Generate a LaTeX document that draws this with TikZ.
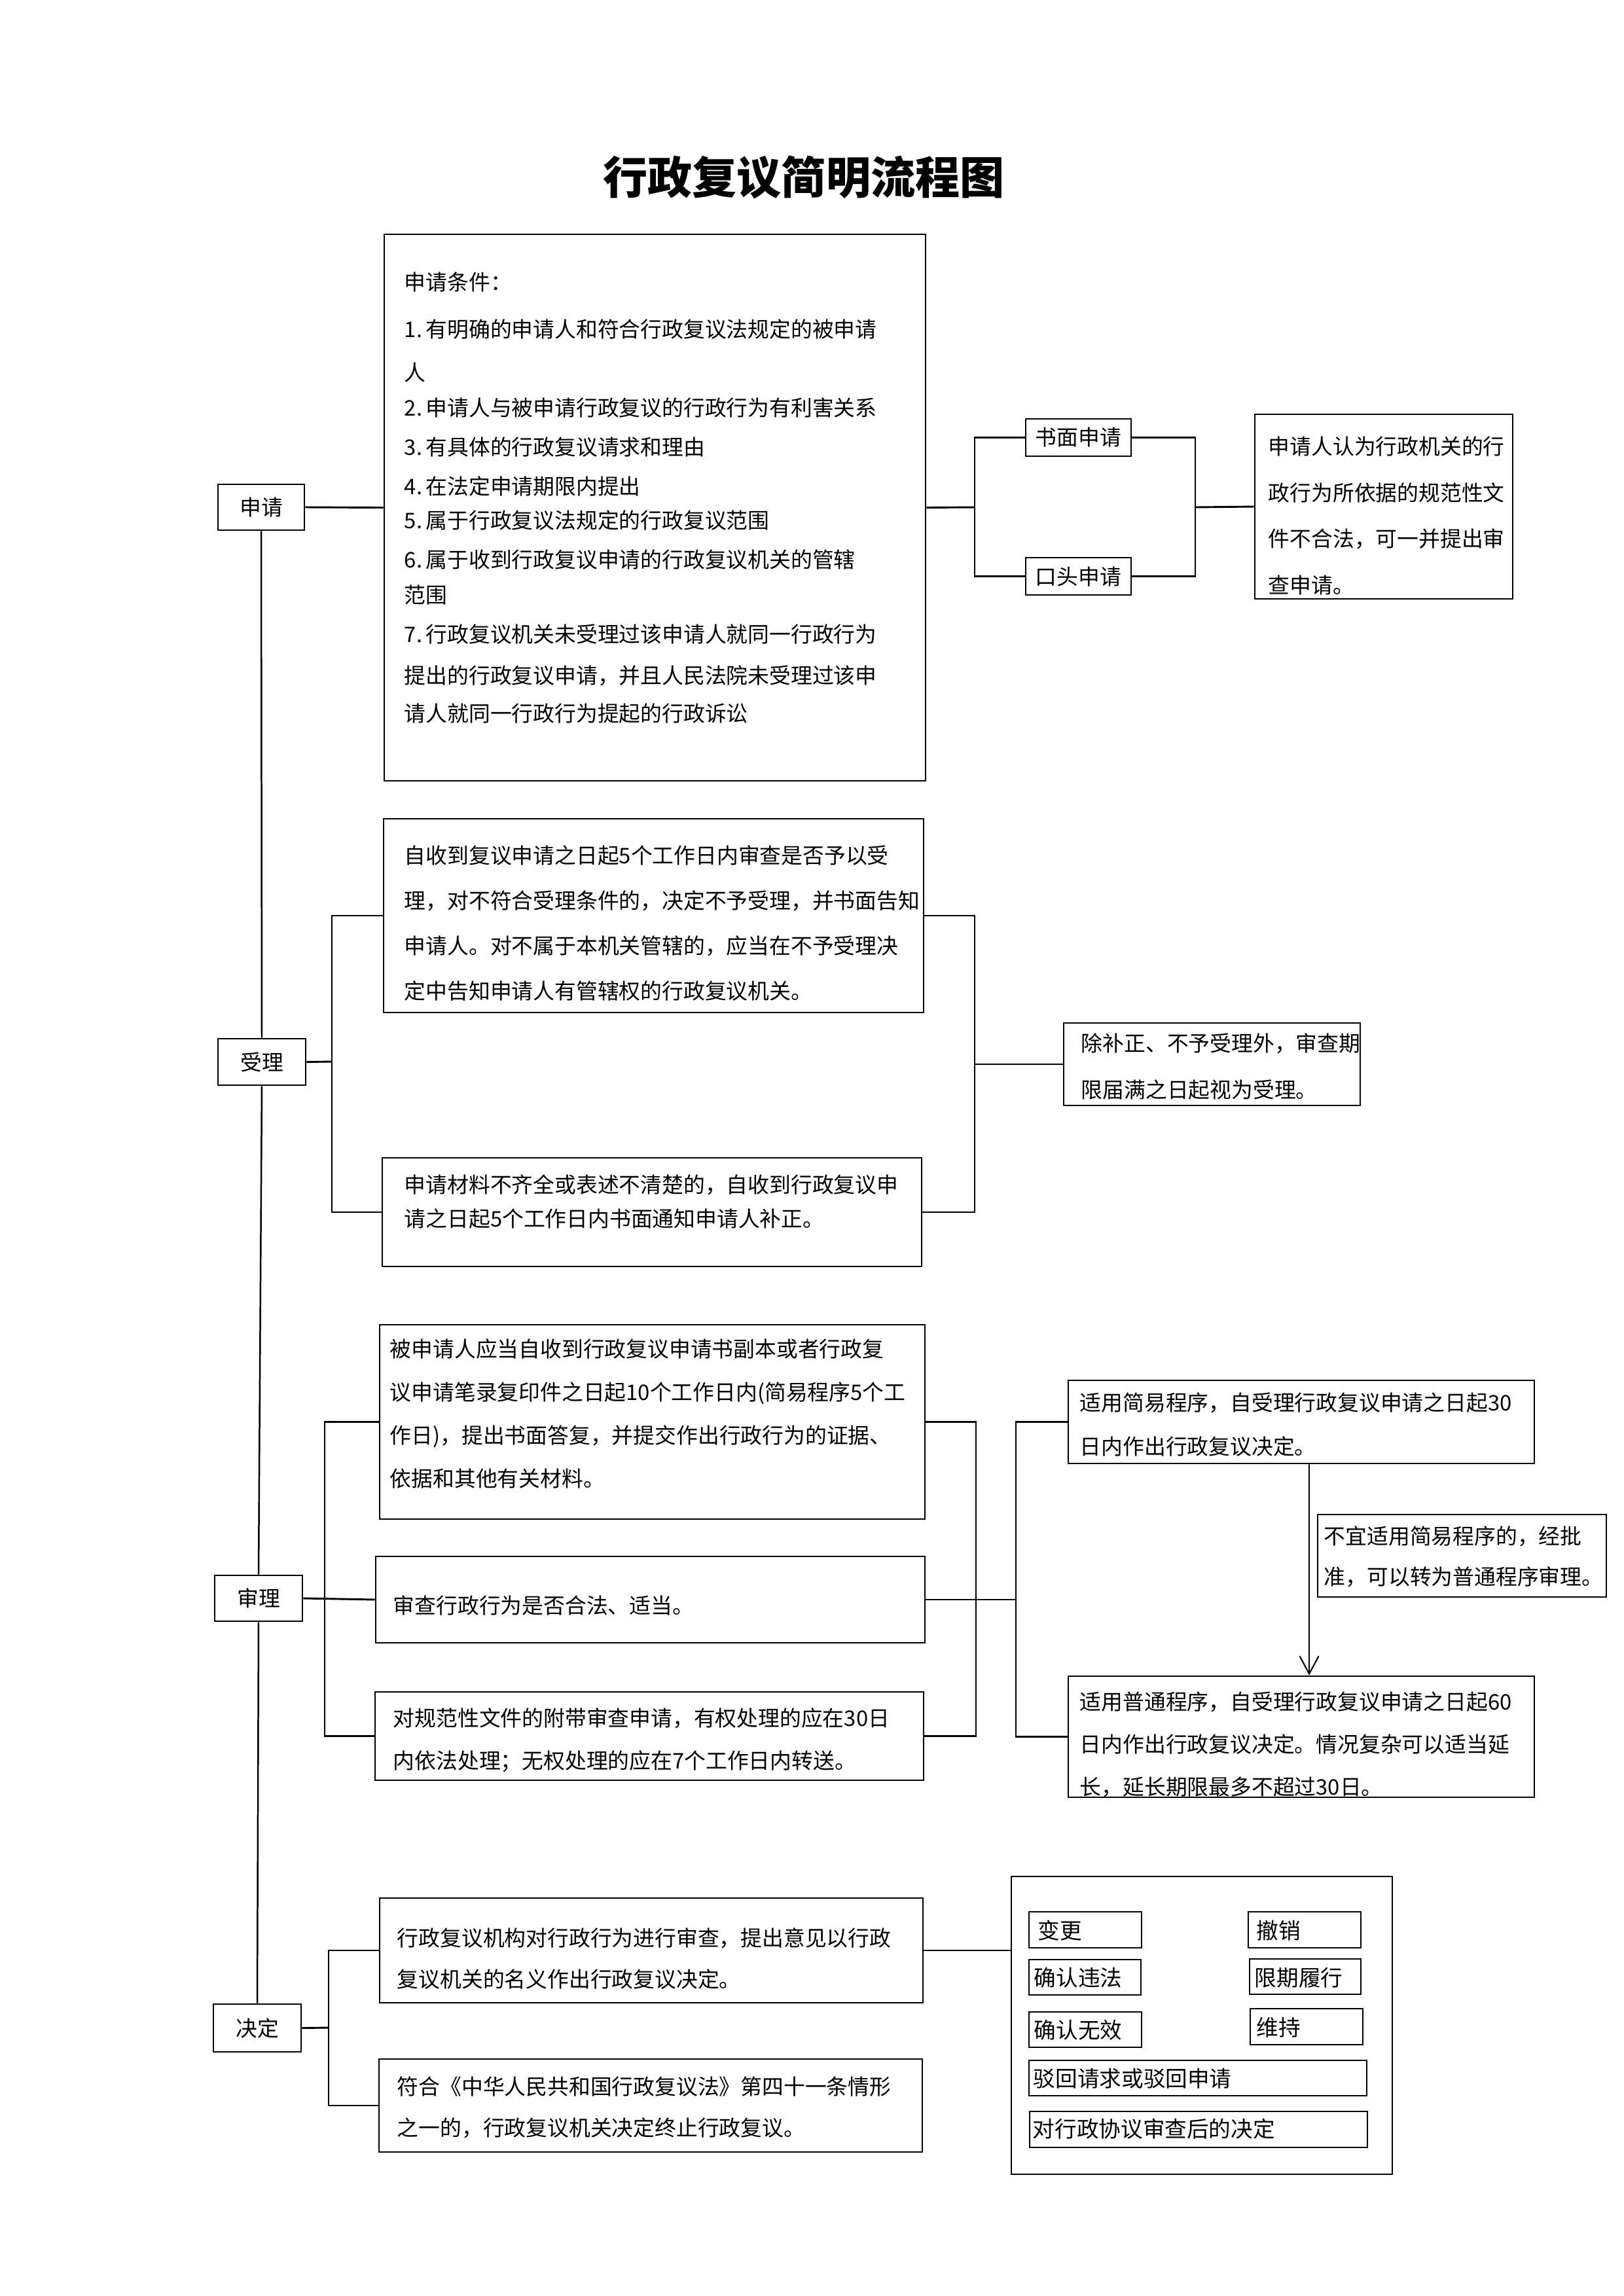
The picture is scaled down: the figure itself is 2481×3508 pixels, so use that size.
\documentclass[tikz,border=0pt]{standalone}
\usepackage{fontspec}
\newfontfamily\cjk{Noto Sans CJK SC}
\usetikzlibrary{arrows.meta}
\newcommand\mkbox[6]{\node[boxst, minimum width={(#4-#2)*0.2408pt}, minimum height={(#5-#3)*0.2408pt}] (#1) at ({(#2+#4)/2},{(#3+#5)/2}) {#6};}
\begin{document}
\begin{tikzpicture}[x=0.2408pt, y=-0.2408pt,
  boxst/.style={draw, line width=0.7pt, inner sep=0pt, rectangle, font=\cjk\fontsize{7.9}{10}\selectfont},
  conn/.style={line width=0.7pt},
  mainline/.style={line width=0.6pt},
  txt/.style={inner sep=0pt, align=left},
  arr/.style={line width=0.5pt, -{Straight Barb[length=6.5pt,width=7pt]}}]
\useasboundingbox (0,0) rectangle (2481,3508);

\node[font=\cjk\bfseries\fontsize{16.4}{20}\selectfont] (title) at (1228,271) {行政复议简明流程图};

% boxes
\mkbox{sq}{333}{740}{465}{810}{申请}
\mkbox{cond}{587}{358}{1414}{1193}{}
\mkbox{sm}{1567}{640}{1728}{697}{书面申请}
\mkbox{kt}{1567}{852}{1728}{909}{口头申请}
\mkbox{rb}{1917}{633}{2311}{915}{}
\mkbox{sl}{333}{1587}{467}{1658}{受理}
\mkbox{ba}{586}{1251}{1411}{1547}{}
\mkbox{bb}{584}{1769}{1408}{1935}{}
\mkbox{bc}{1625}{1563}{2078}{1689}{}
\mkbox{st}{328}{2407}{462}{2477}{审理}
\mkbox{bd}{580}{2024}{1413}{2321}{}
\mkbox{be}{574}{2378}{1413}{2510}{}
\mkbox{bf}{573}{2585}{1411}{2720}{}
\mkbox{bg}{1632}{2109}{2344}{2236}{}
\mkbox{bh}{1632}{2561}{2344}{2746}{}
\mkbox{bi}{2013}{2314}{2454}{2440}{}
\mkbox{jd}{326}{3062}{460}{3135}{决定}
\mkbox{bj}{580}{2900}{1410}{3060}{}
\mkbox{bk}{579}{3146}{1409}{3288}{}
\mkbox{bl}{1545}{2867}{2127}{3322}{}
\mkbox{s1}{1572}{2921}{1744}{2976}{}
\mkbox{s2}{1907}{2921}{2079}{2976}{}
\mkbox{s3}{1572}{2994}{1743}{3048}{}
\mkbox{s4}{1909}{2993}{2079}{3047}{}
\mkbox{s5}{1572}{3074}{1744}{3128}{}
\mkbox{s6}{1910}{3069}{2082}{3124}{}
\mkbox{s7}{1572}{3148}{2088}{3202}{}
\mkbox{s8}{1573}{3226}{2089}{3281}{}

% texts
\node[txt, anchor=north west, font=\cjk\fontsize{7.9}{14.45}\selectfont] (condt) at (617,415)
{申请条件：\\[2.9pt]
1.\,有明确的申请人和符合行政复议法规定的被申请\\[1.4pt]
人\\[-1.4pt]
2.\,申请人与被申请行政复议的行政行为有利害关系\\
3.\,有具体的行政复议请求和理由\\
4.\,在法定申请期限内提出\\[-1.9pt]
5.\,属于行政复议法规定的行政复议范围\\
6.\,属于收到行政复议申请的行政复议机关的管辖\\[-1.4pt]
范围\\
7.\,行政复议机关未受理过该申请人就同一行政行为\\[0.7pt]
提出的行政复议申请，并且人民法院未受理过该申\\[-0.5pt]
请人就同一行政行为提起的行政诉讼};

\node[txt, anchor=north west, font=\cjk\fontsize{7.9}{17.0}\selectfont] (rbt) at (1937,666)
{申请人认为行政机关的行\\政行为所依据的规范性文\\件不合法，可一并提出审\\查申请。};

\node[txt, anchor=north west, font=\cjk\fontsize{7.9}{16.6}\selectfont] (tA) at (617,1291)
{自收到复议申请之日起5个工作日内审查是否予以受\\理，对不符合受理条件的，决定不予受理，并书面告知\\申请人。对不属于本机关管辖的，应当在不予受理决\\定中告知申请人有管辖权的行政复议机关。};

\node[txt, anchor=north west, font=\cjk\fontsize{7.9}{12.5}\selectfont] (tB) at (617,1794)
{申请材料不齐全或表述不清楚的，自收到行政复议申\\请之日起5个工作日内书面通知申请人补正。};

\node[txt, anchor=north west, font=\cjk\fontsize{7.9}{17.1}\selectfont] (tC) at (1651,1578)
{除补正、不予受理外，审查期\\限届满之日起视为受理。};

\node[txt, anchor=north west, font=\cjk\fontsize{7.9}{15.9}\selectfont] (tD) at (595,2045)
{被申请人应当自收到行政复议申请书副本或者行政复\\议申请笔录复印件之日起10个工作日内(简易程序5个工\\作日)，提出书面答复，并提交作出行政行为的证据、\\依据和其他有关材料。};

\node[txt, anchor=west, font=\cjk\fontsize{7.9}{10}\selectfont] (tE) at (600,2453)
{审查行政行为是否合法、适当。};

\node[txt, anchor=north west, font=\cjk\fontsize{7.9}{15.65}\selectfont] (tF) at (600,2609)
{对规范性文件的附带审查申请，有权处理的应在30日\\内依法处理；无权处理的应在7个工作日内转送。};

\node[txt, anchor=north west, font=\cjk\fontsize{7.9}{16.1}\selectfont] (tG) at (1649,2127)
{适用简易程序，自受理行政复议申请之日起30\\日内作出行政复议决定。};

\node[txt, anchor=north west, font=\cjk\fontsize{7.9}{15.65}\selectfont] (tH) at (1649,2584)
{适用普通程序，自受理行政复议申请之日起60\\日内作出行政复议决定。情况复杂可以适当延\\长，延长期限最多不超过30日。};

\node[txt, anchor=north west, font=\cjk\fontsize{7.9}{14.9}\selectfont] (tI) at (2022,2331)
{不宜适用简易程序的，经批\\准，可以转为普通程序审理。};

\node[txt, anchor=north west, font=\cjk\fontsize{7.9}{15.2}\selectfont] (tJ) at (606,2945)
{行政复议机构对行政行为进行审查，提出意见以行政\\复议机关的名义作出行政复议决定。};

\node[txt, anchor=north west, font=\cjk\fontsize{7.9}{15.2}\selectfont] (tK) at (606,3172)
{符合《中华人民共和国行政复议法》第四十一条情形\\之一的，行政复议机关决定终止行政复议。};

\node[txt, anchor=west, font=\cjk\fontsize{8.1}{10}\selectfont] (t1) at (1585,2950) {变更};
\node[txt, anchor=west, font=\cjk\fontsize{8.1}{10}\selectfont] (t2) at (1919,2950) {撤销};
\node[txt, anchor=west, font=\cjk\fontsize{8.1}{10}\selectfont] (t3) at (1579,3022) {确认违法};
\node[txt, anchor=west, font=\cjk\fontsize{8.1}{10}\selectfont] (t4) at (1916,3022) {限期履行};
\node[txt, anchor=west, font=\cjk\fontsize{8.1}{10}\selectfont] (t5) at (1579,3102) {确认无效};
\node[txt, anchor=west, font=\cjk\fontsize{8.1}{10}\selectfont] (t6) at (1919,3098) {维持};
\node[txt, anchor=west, font=\cjk\fontsize{8.1}{10}\selectfont] (t7) at (1578,3176) {驳回请求或驳回申请};
\node[txt, anchor=west, font=\cjk\fontsize{8.1}{10}\selectfont] (t8) at (1577,3253) {对行政协议审查后的决定};

% main vertical line
\draw[mainline] (sq.south) -- (sl.north);
\draw[mainline] (sl.south) -- (st.north);
\draw[mainline] (st.south) -- (jd.north);

% section 1
\coordinate (j1) at (1489,775);
\coordinate (j2) at (1826,775);
\draw[conn] (sq.east) -- (cond.west);
\draw[conn] (cond.east) -- (j1);
\draw[conn] (sm.west) -| (j1) |- (kt.west);
\draw[conn] (sm.east) -| (j2) |- (kt.east);
\draw[conn] (j2) -- (rb.west);

% section 2
\coordinate (j3) at (507,1622);
\coordinate (j4) at (1489,1626);
\draw[conn] (sl.east) -- (j3);
\draw[conn] (ba.west) -| (j3) |- (bb.west);
\draw[conn] (ba.east) -| (j4) |- (bb.east);
\draw[conn] (j4) -- (bc.west);

% section 3
\coordinate (j5) at (496,2443);
\coordinate (j6) at (1491,2444);
\coordinate (j7) at (1552,2444);
\draw[conn] (st.east) -- (be.west);
\draw[conn] (bd.west) -| (j5) |- (bf.west);
\draw[conn] (bd.east) -| (j6) |- (bf.east);
\draw[conn] (be.east) -- (j7);
\draw[conn] (bg.west) -| (j7) |- (bh.west);
\draw[arr] ([xshift=2.9pt]bg.south) -- ([xshift=2.9pt]bh.north);

% section 4
\coordinate (j8) at (502,3098);
\draw[conn] (jd.east) -- (j8);
\draw[conn] (bj.west) -| (j8) |- (bk.west);
\draw[conn] (bj.east) -- (bj.east -| bl.west);
\end{tikzpicture}
\end{document}
